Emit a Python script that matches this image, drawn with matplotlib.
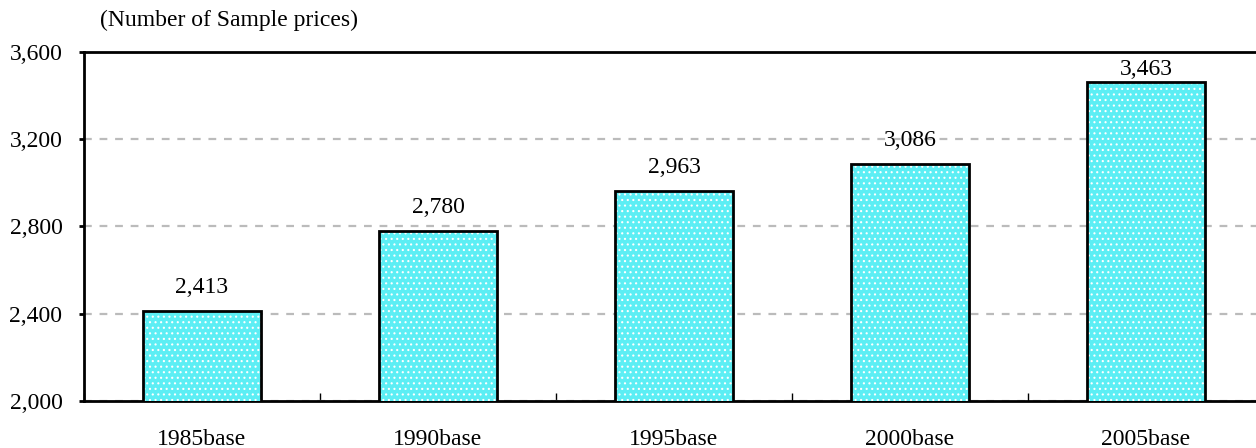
import matplotlib.pyplot as plt
import numpy as np

plt.rcParams['font.family'] = ['Liberation Serif', 'DejaVu Serif']
plt.rcParams['hatch.linewidth'] = 0.8

categories = ['1985base', '1990base', '1995base', '2000base', '2005base']
counts = [2413, 2780, 2963, 3086, 3463]
yticks = [2000, 2400, 2800, 3200, 3600]

W, H = 1256, 448
top_px, bottom_px = 52, 401
fig = plt.figure(figsize=(W / 100, H / 100), dpi=100)
ax = fig.add_axes([84 / W, 1 - bottom_px / H, 1180 / W, (bottom_px - top_px) / H])

ymin, ymax = 2000, 3600
px_per_unit = (bottom_px - top_px) / (ymax - ymin)

x = np.arange(len(categories))
# fill first (white dotted hatch), then black outline on top
ax.bar(x, counts, width=0.5, color='#5CEEF4', edgecolor='white',
       hatch='...', linewidth=0, zorder=3)
ax.bar(x, counts, width=0.5, fill=False, edgecolor='black', linewidth=2, zorder=4)

# value labels sit 18px above the bar, but stay inside the frame
for xi, v in zip(x, counts):
    room = (ymax - v) * px_per_unit - 23
    off = min(18, room) * 0.72
    ax.annotate(f'{v:,}', (xi, v), xytext=(0, off), textcoords='offset points',
                ha='center', va='baseline', fontsize=17)

ax.set_ylim(ymin, ymax)
ax.set_xlim(-0.5, len(categories) - 0.5)
ax.set_yticks(yticks)
ax.set_yticklabels([f'{t:,}' for t in yticks], fontsize=17)
ax.grid(axis='y', color='#BBBBBB', linestyle=(0, (3.5, 3.5)), linewidth=1.6, zorder=1)

ax.set_xticks(x)
ax.set_xticklabels(categories, fontsize=17)
ax.set_xticks(np.arange(len(categories) + 1) - 0.5, minor=True)
ax.tick_params(axis='x', which='major', length=0, pad=20.5)
ax.tick_params(axis='x', which='minor', direction='in', length=6, width=1)
ax.tick_params(axis='y', direction='out', length=3.5, width=2, pad=12)

for side in ['left', 'bottom', 'top']:
    ax.spines[side].set_linewidth(2)
ax.spines['right'].set_visible(False)

fig.text(100 / W, 1 - 20 / H, '(Number of Sample prices)', fontsize=17,
         ha='left', va='center')

fig.savefig('out.png', dpi=100)
